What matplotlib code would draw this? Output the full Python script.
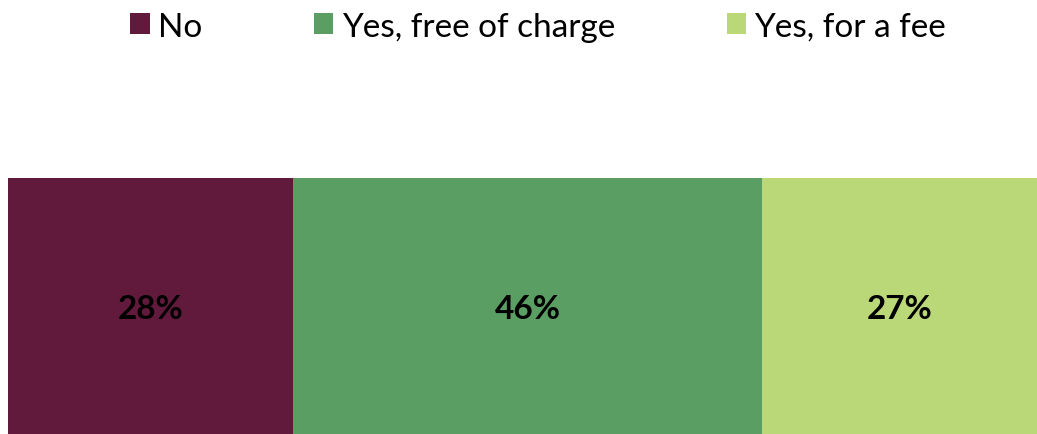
import matplotlib.pyplot as plt
from matplotlib.patches import Patch

categories = ["No", "Yes, free of charge", "Yes, for a fee"]
values = [28, 46, 27]
labels = ["28%", "46%", "27%"]
colors = ["#621A3C", "#5B9E63", "#BBD879"]

W, H = 1037, 435
fig = plt.figure(figsize=(W / 100, H / 100), dpi=100)
plt.rcParams["font.family"] = ["Lato", "DejaVu Sans"]

ax = fig.add_axes([8 / W, 0, (W - 8) / W, 256 / H])
left = 0
for cat, val, lab, col in zip(categories, values, labels, colors):
    ax.barh(0, val, left=left, height=1.0, color=col, label=cat)
    ax.text(left + val / 2, -0.01, lab, ha="center", va="center",
            fontsize=24, fontweight="bold", color="black")
    left += val
ax.set_xlim(0, sum(values))
ax.set_ylim(-0.5, 0.5)
ax.axis("off")

handles = [Patch(facecolor=c, edgecolor="none") for c in colors]
fig.legend(handles, categories, loc="upper center", bbox_to_anchor=(0.519, 1.04),
           ncol=3, frameon=False, fontsize=24, handlelength=0.58, handleheight=0.58,
           handletextpad=0.25, columnspacing=3.35)

fig.savefig("out.png", dpi=100)
